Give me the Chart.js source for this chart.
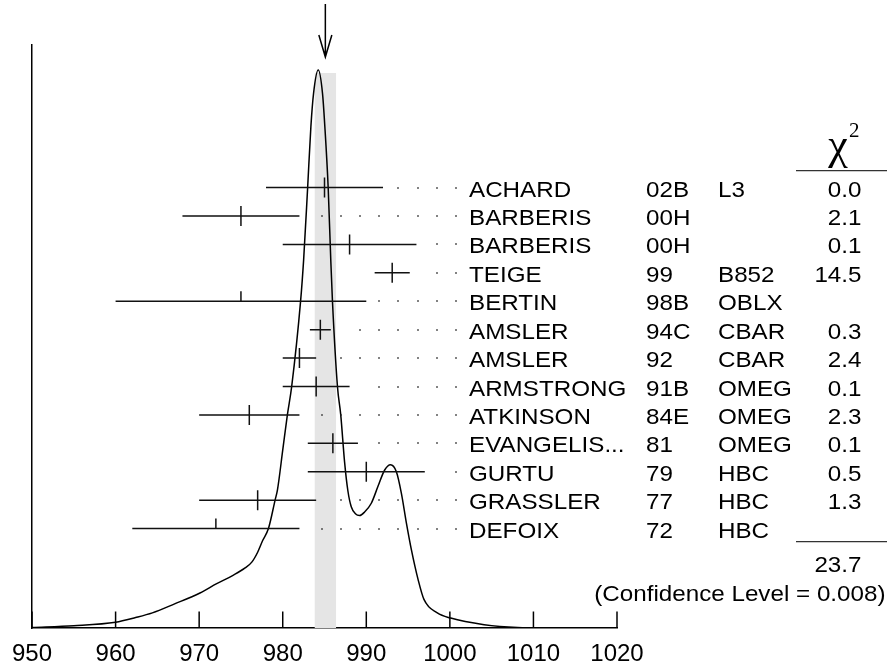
<!DOCTYPE html>
<html>
<head>
<meta charset="utf-8">
<script src="https://cdn.jsdelivr.net/npm/chart.js@4"></script>
<style>
  html, body { margin: 0; padding: 0; background: #fff; }
  #wrap { width: 887px; height: 668px; position: relative; }
</style>
</head>
<body>
<div id="wrap"><canvas id="c" width="887" height="668"></canvas></div>
<script>
// ---------------- data ----------------
const names  = ['ACHARD','BARBERIS','BARBERIS','TEIGE','BERTIN','AMSLER','AMSLER','ARMSTRONG','ATKINSON','EVANGELIS...','GURTU','GRASSLER','DEFOIX'];
const years  = ['02B','00H','00H','99','98B','94C','92','91B','84E','81','79','77','72'];
const exps   = ['L3','','','B852','OBLX','CBAR','CBAR','OMEG','OMEG','OMEG','HBC','HBC','HBC'];
const chi2   = ['0.0','2.1','0.1','14.5','','0.3','2.4','0.1','2.3','0.1','0.5','1.3',''];
const means  = [985, 975, 988, 993.1, 975, 984.5, 982, 984, 976, 986, 990, 977, 972];
const errors = [7, 7, 8, 2.1, 15, 1.25, 2, 4, 6, 3, 7, 7, 10];
const chi2Total = '23.7';
const confidenceLevel = '0.008';
const fitMean = 985.1;
const fitError = 1.3;
const bandTop = 95.2;
const xTickValues = [950, 960, 970, 980, 990, 1000, 1010, 1020];
const xTickLabels = ['950', '960', '970', '980', '990', '1000', '1010', '1020'];
const curveX = [950, 955, 960, 962.4, 964.4, 967, 970.1, 972.1, 974, 975.5, 976.3, 977.0, 977.6, 978.3, 979.08, 979.37, 980.0, 980.56, 981.07, 982.14, 982.5, 982.98, 983.37, 983.69, 984.25, 984.76, 985.04, 985.44, 985.75, 985.95, 986.55, 986.94, 987.4, 987.8, 988.2, 988.7, 989.2, 989.8, 990.6, 991.4, 992.2, 992.9, 993.6, 994.2, 994.8, 995.4, 996.2, 996.9, 998.5, 1000.1, 1004.1, 1008.1, 1012, 1020];
const curveY = [0.1, 0.4, 1.0, 1.8, 2.6, 4.1, 6.0, 7.6, 9.0, 10.3, 11.3, 13.0, 15.0, 17.1, 21.9, 23.7, 30.5, 36.6, 41.4, 56.1, 63.1, 75.5, 86.0, 91.7, 95.7, 91.7, 86.0, 75.5, 63.1, 56.1, 41.4, 36.6, 28.5, 23.5, 20.8, 19.6, 19.3, 19.9, 21.4, 24.3, 27.1, 28.0, 26.8, 23.1, 18.0, 13.4, 8.3, 4.9, 2.6, 1.7, 0.57, 0.1, 0.03, 0.0];
// leader-dot grid (data units)
const dotStart = 984.64, dotStep = 2.3, dotEnd = 1000.8;

// ---------------- drawing ----------------
const SANS = "'Liberation Sans', Arial, Helvetica, sans-serif";
const SERIF = "'Liberation Serif', 'Times New Roman', serif";

function stretchedText(ctx, str, x, y, align) {
  ctx.save();
  ctx.translate(x, y);
  ctx.scale(1.1, 1);
  ctx.textAlign = align;
  ctx.textBaseline = 'alphabetic';
  ctx.fillText(str, 0, 0);
  ctx.restore();
}

const overlay = {
  id: 'overlay',
  afterDatasetsDraw(chart) {
    const ctx = chart.ctx;
    const xs = chart.scales.x, rs = chart.scales.y2;
    const area = chart.chartArea;
    ctx.save();
    // inward x tick marks
    ctx.strokeStyle = '#000';
    ctx.lineWidth = 1.5;
    xTickValues.forEach(v => {
      const px = xs.getPixelForValue(v);
      ctx.beginPath();
      ctx.moveTo(px, area.bottom);
      ctx.lineTo(px, area.bottom - 16.5);
      ctx.stroke();
    });
    // leader dots
    ctx.fillStyle = '#222';
    names.forEach((n, i) => {
      const y = rs.getPixelForValue(i);
      const hiPx = xs.getPixelForValue(means[i] + errors[i]);
      for (let v = dotStart; v <= dotEnd; v += dotStep) {
        const px = xs.getPixelForValue(v);
        if (px > hiPx + 12.5) ctx.fillRect(Math.round(px) - 0.75, Math.round(y) - 0.75, 1.5, 1.5);
      }
    });
    // error bars
    ctx.strokeStyle = '#111';
    ctx.lineWidth = 1.5;
    names.forEach((n, i) => {
      const y = rs.getPixelForValue(i);
      const lo = xs.getPixelForValue(means[i] - errors[i]);
      const hi = xs.getPixelForValue(means[i] + errors[i]);
      const c = xs.getPixelForValue(means[i]);
      ctx.beginPath();
      ctx.moveTo(lo, y); ctx.lineTo(hi, y);
      const used = chi2[i] !== '';
      ctx.moveTo(c, y - 10);
      ctx.lineTo(c, used ? y + 10 : y);
      ctx.stroke();
    });
    // arrow at the fit mean
    const ax = xs.getPixelForValue(fitMean);
    ctx.strokeStyle = '#000';
    ctx.lineWidth = 1.5;
    ctx.beginPath();
    ctx.moveTo(ax, 4); ctx.lineTo(ax, 57);
    ctx.moveTo(ax - 6.5, 35); ctx.lineTo(ax, 57); ctx.lineTo(ax + 6.5, 35);
    ctx.stroke();
    // table text
    ctx.fillStyle = '#000';
    ctx.font = '22px ' + SANS;
    names.forEach((n, i) => {
      const y = rs.getPixelForValue(i) + 9;
      stretchedText(ctx, n, 469, y, 'left');
      stretchedText(ctx, years[i], 646, y, 'left');
      if (exps[i]) stretchedText(ctx, exps[i], 718, y, 'left');
      if (chi2[i]) stretchedText(ctx, chi2[i], 861.5, y, 'right');
    });
    // chi2 header
    ctx.font = '44px ' + SERIF;
    ctx.textAlign = 'center';
    ctx.textBaseline = 'alphabetic';
    ctx.fillText('\u03C7', 838, 159);
    ctx.font = '21px ' + SERIF;
    ctx.textAlign = 'left';
    ctx.fillText('2', 849, 137);
    ctx.strokeStyle = '#333';
    ctx.lineWidth = 1.2;
    ctx.beginPath();
    ctx.moveTo(796, 170.7); ctx.lineTo(887, 170.7);
    ctx.moveTo(796, 541.7); ctx.lineTo(887, 541.7);
    ctx.stroke();
    ctx.font = '22px ' + SANS;
    stretchedText(ctx, chi2Total, 861.5, 571.5, 'right');
    stretchedText(ctx, '(Confidence Level = ' + confidenceLevel + ')', 885.5, 600.5, 'right');
    ctx.restore();
  }
};

const curveData = curveX.map((x, i) => ({ x: x, y: curveY[i] }));
const bandData = [{ x: fitMean - fitError, y: bandTop }, { x: fitMean + fitError, y: bandTop }];

new Chart(document.getElementById('c'), {
  type: 'line',
  data: {
    datasets: [
      {
        data: curveData,
        xAxisID: 'x', yAxisID: 'y',
        borderColor: '#000', borderWidth: 1.5,
        pointRadius: 0, fill: false,
        cubicInterpolationMode: 'monotone',
        order: 1
      },
      {
        data: bandData,
        xAxisID: 'x', yAxisID: 'y',
        borderWidth: 0, borderColor: 'rgba(0,0,0,0)',
        backgroundColor: '#e5e5e5',
        pointRadius: 0, fill: 'origin',
        order: 2
      }
    ]
  },
  options: {
    responsive: false,
    animation: false,
    devicePixelRatio: 1,
    layout: { autoPadding: false, padding: { left: 0, top: 45, right: 270, bottom: 0 } },
    plugins: { legend: { display: false }, tooltip: { enabled: false } },
    scales: {
      x: {
        type: 'linear', position: 'bottom',
        min: 950, max: 1020,
        afterFit: s => { s.height = 40; },
        afterBuildTicks: s => { s.ticks = xTickValues.map(v => ({ value: v })); },
        grid: { display: false, drawTicks: false },
        border: { display: true, color: '#000', width: 1.5 },
        ticks: { color: '#000', padding: 12, maxRotation: 0, autoSkip: false,
                 callback: (v) => xTickLabels[xTickValues.indexOf(v)],
                 font: { family: SANS, size: 24 } }
      },
      y: {
        type: 'linear', position: 'left',
        min: 0, max: 100,
        afterFit: s => { s.width = 29; },
        grid: { display: false, drawTicks: false },
        border: { display: true, color: '#000', width: 1.5 },
        ticks: { display: false }
      },
      y2: {
        type: 'linear', position: 'right', display: false,
        reverse: true, min: -5.02, max: 15.5
      }
    }
  },
  plugins: [overlay]
});
</script>
</body>
</html>
